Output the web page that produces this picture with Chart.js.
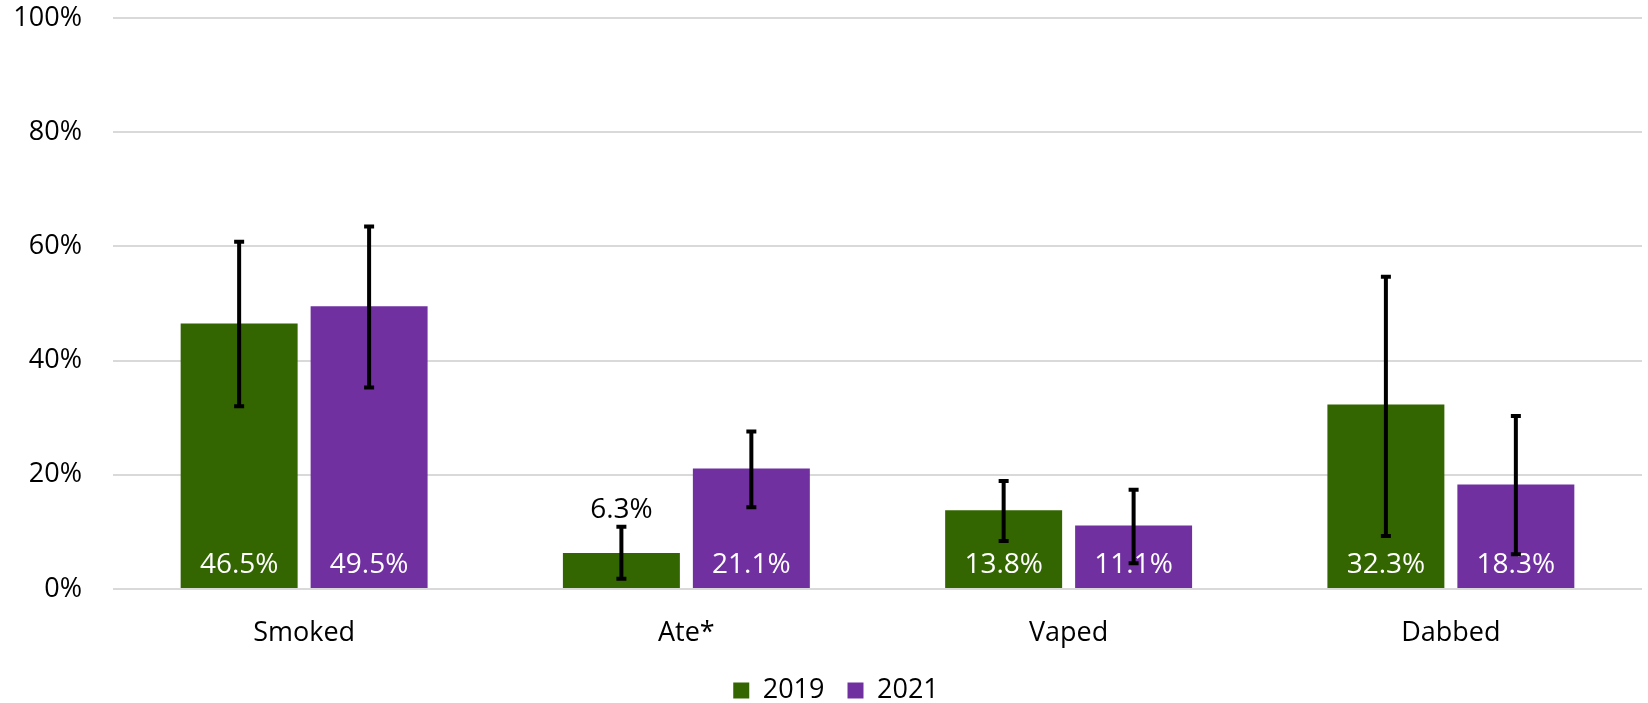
<!DOCTYPE html>
<html>
<head>
<meta charset="utf-8">
<script src="https://cdn.jsdelivr.net/npm/chart.js@4/dist/chart.umd.min.js"></script>
<style>
  html, body { margin: 0; padding: 0; background: #fff; }
  #wrap { width: 1648px; height: 703px; }
</style>
</head>
<body>
<div id="wrap"><canvas id="chart"></canvas></div>
<script>
const categories = ["Smoked", "Ate*", "Vaped", "Dabbed"];
const years = ["2019", "2021"];
const values2019 = [46.5, 6.3, 13.8, 32.3];
const values2021 = [49.5, 21.1, 11.1, 18.3];
const low2019 = [32.0, 1.8, 8.4, 9.3];
const high2019 = [60.8, 10.9, 18.9, 54.7];
const low2021 = [35.3, 14.3, 4.5, 6.1];
const high2021 = [63.5, 27.6, 17.4, 30.3];
const yTicks = [0, 20, 40, 60, 80, 100];

const colors = ["#336600", "#7030a0"];
const font = "'Open Sans', 'Noto Sans', sans-serif";

// error bars + value labels drawn on top of the bars
const barExtras = {
  id: "barExtras",
  afterLayout(chart) {
    // legend sits a bit right of the canvas centre in the original
    if (chart.legend) {
      chart.legend.left += 15;
      chart.legend.right += 15;
    }
  },
  afterDatasetsDraw(chart) {
    const { ctx, scales } = chart;
    const y = scales.y;
    ctx.save();
    chart.data.datasets.forEach((ds, di) => {
      const meta = chart.getDatasetMeta(di);
      meta.data.forEach((bar, i) => {
        const x = bar.x;
        const top = y.getPixelForValue(ds.high[i]);
        const bot = y.getPixelForValue(ds.low[i]);
        const base = y.getPixelForValue(0);
        const label = ds.data[i].toFixed(1) + "%";
        ctx.font = "28px " + font;
        ctx.textAlign = "center";
        ctx.textBaseline = "middle";
        if (base - bar.y > 45) {
          ctx.fillStyle = "#ffffff";
          ctx.fillText(label, x, base - 24);
        } else {
          ctx.fillStyle = "#000000";
          ctx.fillText(label, x, top - 17);
        }
        ctx.strokeStyle = "#000000";
        ctx.lineWidth = 4;
        ctx.beginPath();
        ctx.moveTo(x, top);
        ctx.lineTo(x, bot);
        ctx.moveTo(x - 5, top);
        ctx.lineTo(x + 5, top);
        ctx.moveTo(x - 5, bot);
        ctx.lineTo(x + 5, bot);
        ctx.stroke();
      });
    });
    ctx.restore();
  }
};

new Chart(document.getElementById("chart"), {
  type: "bar",
  data: {
    labels: categories,
    datasets: [
      { label: years[0], data: values2019, low: low2019, high: high2019, backgroundColor: colors[0] },
      { label: years[1], data: values2021, low: low2021, high: high2021, backgroundColor: colors[1] },
    ],
  },
  options: {
    responsive: true,
    maintainAspectRatio: false,
    animation: false,
    categoryPercentage: 0.68,
    barPercentage: 0.9,
    layout: { padding: { top: 18, right: 6, left: 0, bottom: -11 } },
    plugins: {
      legend: {
        position: "bottom",
        labels: {
          boxWidth: 16,
          boxHeight: 16,
          padding: 23,
          color: "#000",
          font: { family: font, size: 27 },
        },
      },
      tooltip: { enabled: false },
    },
    scales: {
      x: {
        grid: { display: false },
        border: { display: false },
        ticks: { color: "#000", font: { family: font, size: 27 }, padding: 20 },
        afterFit(scale) { scale.height = 65; },
      },
      y: {
        min: 0,
        max: 100,
        afterBuildTicks(scale) { scale.ticks = yTicks.map((v) => ({ value: v })); },
        ticks: {
          color: "#000",
          padding: 31,
          font: { family: font, size: 27 },
          callback: (v) => v + "%",
        },
        grid: { color: "#d9d9d9", lineWidth: 2, drawTicks: false },
        border: { display: false },
        afterFit(scale) {
          scale.width = 113;
          scale.paddingTop = 0;
          scale.paddingBottom = 0;
        },
      },
    },
  },
  plugins: [barExtras],
});
</script>
</body>
</html>
